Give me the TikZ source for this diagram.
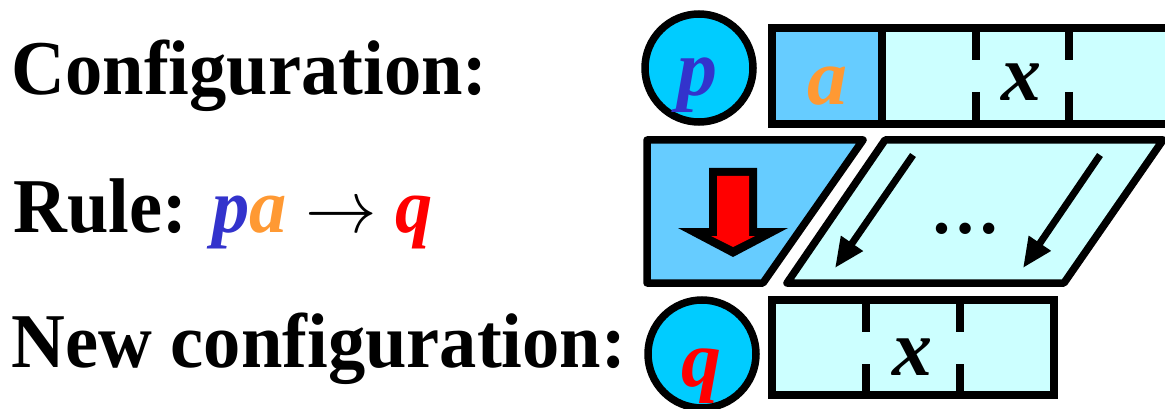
\documentclass[tikz,border=0pt]{standalone}
\usepackage{fontspec}
\setmainfont{Liberation Serif}
\usetikzlibrary{arrows.meta}
\definecolor{statefill}{HTML}{00CCFF}
\definecolor{cellfill}{HTML}{66CCFF}
\definecolor{tapefill}{HTML}{CCFFFF}
\definecolor{pblue}{HTML}{3333CC}
\definecolor{aorange}{HTML}{FF9933}
\newcommand{\bigarrow}{\scalebox{7.3}{\fontsize{10}{12}\selectfont$\rightarrow$}}
\begin{document}
\begin{tikzpicture}[x=1pt,y=-1pt,line width=7.5pt,
  statecircle/.style={circle,draw,fill=statefill,minimum size=108pt,inner sep=0pt},
  bigtext/.style={inner sep=0pt,anchor=base west,xscale=0.98,yscale=1.02,transform shape,font=\fontsize{76}{82}\selectfont\bfseries},
  sym/.style={inner sep=0pt,anchor=base,font=\fontsize{80}{86}\selectfont\bfseries\itshape},
  shapeline/.style={draw,line join=round},
  slant/.style={-{Triangle[length=30pt,width=25pt]},line width=7pt}]
\useasboundingbox (0,0) rectangle (1165,409);
\clip (0,0) rectangle (1165,409);

% left texts
\node[bigtext] (cfg) at (8,95) {Configuration:};
\node[bigtext] (rule) at (10,232) {Rule: \textcolor{pblue}{\itshape p}\textcolor{aorange}{\itshape a} \bigarrow{} \textcolor{red}{\itshape q}};
\node[bigtext] (newcfg) at (8,367) {New configuration:};

% top configuration
\node[statecircle] (p) at (699,68) {};
\node[sym,text=pblue] (plab) at (697,96) {p};
\draw[fill=tapefill] (772,28) rectangle (1200,124);
\draw[fill=cellfill] (772,28) rectangle (882,124);
\node[sym,text=aorange] (alab) at (827,105) {a};
\node[sym] (xtop) at (1021,101) {x};
\draw (976,28) -- (976,60) (976,92) -- (976,124);
\draw (1069,28) -- (1069,60) (1069,92) -- (1069,124);

% rule
\draw[shapeline,fill=cellfill] (647,140) -- (863,140) -- (763,283) -- (647,283) -- cycle;
\fill[black] (709,168) -- (757,168) -- (757,228) -- (788,228) -- (733,257) -- (678,228) -- (709,228) -- cycle;
\fill[red] (717,176) -- (749,176) -- (749,236) -- (755,236) -- (733,247) -- (711,236) -- (717,236) -- cycle;
\draw[shapeline,fill=tapefill] (885,140) -- (1163,140) -- (1064,283) -- (787,283) -- cycle;
\coordinate (s1) at (913,155);
\coordinate (e1) at (835,268);
\coordinate (s2) at (1100,155);
\coordinate (e2) at (1023,268);
\draw[slant] (s1) -- (e1);
\draw[slant] (s2) -- (e2);
\node[inner sep=0pt,anchor=base,font=\fontsize{70}{80}\selectfont\bfseries] (dots) at (965,233) {…};

% new configuration
\node[statecircle] (q) at (702,354) {};
\node[sym,text=red] (qlab) at (701,386) {q};
\draw[fill=tapefill] (772,300) rectangle (1054,395);
\draw (866,300) -- (866,332) (866,364) -- (866,395);
\draw (960,300) -- (960,332) (960,364) -- (960,395);
\node[sym] (xbot) at (912,375) {x};
\end{tikzpicture}
\end{document}
